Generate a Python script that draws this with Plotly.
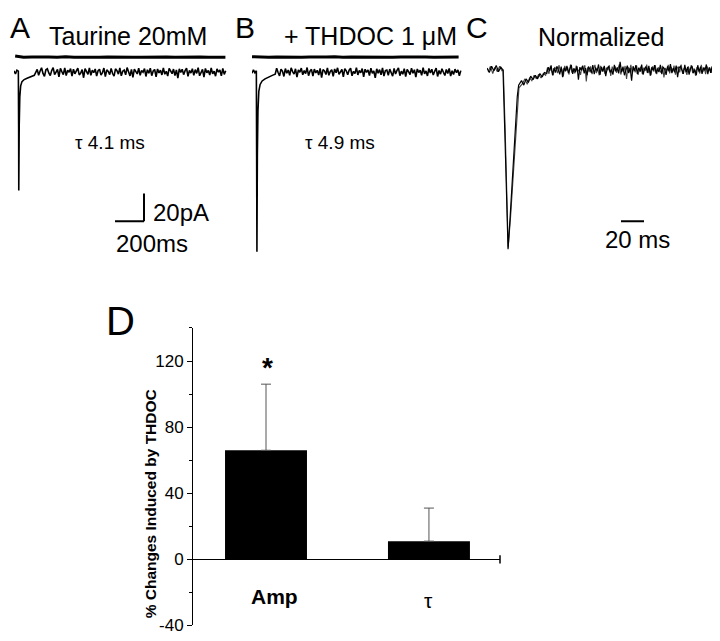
import plotly.graph_objects as go

# ---------------- DATA ----------------
# Panel A (Taurine 20 mM): time (ms), current (pA)
a_spike_t = [0, 10, 20, 30, 32, 33, 34, 36, 40, 46, 55, 70, 90, 115, 140]
a_spike_i = [0.8, -1.5, 1.2, 0.5, -40, -85, -70, -38, -18, -10, -7, -5.5, -4.5, -3.5, -2.5]
a_noise = [
    1.8, -2.4, 0.6, 2.9, -1.1, -3.2, 1.5, 2.2, -0.8, -2.7,
    0.9, 3.0, -2.0, -0.4, 1.7, -3.6, 2.5, 0.2, -1.9, 2.8,
    -2.6, 1.1, -0.3, 2.4, -3.1, 1.9, -1.4, 0.7, 2.6, -2.2,
    -0.9, 1.6, -4.2, 2.3, 0.4, -1.8, 2.9, -2.5, 1.2, -0.6,
    2.1, -3.0, 0.8, 1.9, -2.3, -0.5, 2.7, -3.4, 1.4, 0.3,
    -2.0, 2.5, -1.2, -3.1, 2.2, 0.9, -1.6, 2.8, -2.8, 0.5,
    1.3, -2.1, 3.1, -0.7, -2.9, 1.8, -4.0, 2.0, 0.1, -1.5,
    2.6, -2.4, 1.0, -0.2, 2.3, -3.3, 1.5, -1.0, 2.7, -2.7,
    0.6, 1.7, -3.5, 2.1, -0.8, 1.2, -2.2, 2.9, -1.7, 0.4,
    -3.0, 2.4, 0.7, -1.3, 2.0, -2.6, 1.4, -4.4, 2.2, -0.4,
    1.9, -2.0, 0.9, 2.6, -3.2, 1.1, -0.9, 2.3, -2.5, 1.6,
    -1.1, 3.0, -2.8, 0.3, 1.8, -3.7, 2.5, -0.6, 1.0, -2.3,
    2.8, -1.4, 0.5, -3.1, 2.1, -0.2, 1.3, -2.9, 2.4, -1.8,
    0.8]
a_top = [11.4, 10.5, 10.7, 10.4, 10.6, 10.5, 10.8, 10.4, 10.6, 10.7, 10.5, 10.6, 10.4,
         10.7, 10.5, 10.4, 10.6, 10.5, 10.7, 10.4, 10.6, 10.5, 10.7, 10.5, 10.6, 10.4]

# Panel B (+ THDOC 1 uM)
b_spike_t = [0, 10, 20, 30, 32, 34, 35, 37, 41, 47, 56, 70, 90, 115, 140]
b_spike_i = [-0.9, 1.4, -0.6, 0.8, -60, -129, -110, -60, -28, -14, -9, -6.5, -5, -3.5, -2.5]
b_noise = [
    -1.7, 2.6, -0.5, -2.9, 1.9, 0.6, -3.3, 2.4, -1.0, 1.3,
    -2.5, 2.9, 0.2, -1.6, 2.2, -3.8, 1.4, -0.3, 2.7, -2.1,
    0.9, -1.2, 3.1, -2.7, 0.5, 1.8, -3.0, 2.0, -0.8, 1.1,
    -2.3, 2.5, -4.1, 1.6, 0.7, -1.9, 2.8, -2.4, 0.3, 1.5,
    -3.2, 2.1, -0.6, 2.9, -1.8, -0.1, 1.7, -3.5, 2.3, 0.8,
    -2.0, 1.2, 2.6, -2.8, 0.4, -1.3, 3.0, -2.2, 1.0, -0.7,
    2.4, -3.6, 1.9, -0.4, 1.4, -2.6, 2.7, -1.1, 0.6, -4.3,
    2.2, -0.9, 1.6, -2.1, 2.8, -3.0, 0.9, 1.3, -2.4, 2.0,
    -0.2, -3.1, 2.5, -1.5, 1.1, 2.9, -2.7, 0.5, -1.7, 2.3,
    -3.4, 1.8, 0.1, -2.0, 2.6, -1.0, 1.5, -3.8, 2.1, -0.5,
    1.2, -2.5, 3.0, -1.4, 0.7, -2.9, 2.4, -0.8, 1.9, -2.2,
    0.4, 2.7, -3.3, 1.0, -1.6, 2.2, -0.3, -2.6, 1.7, -1.2,
    2.5, -3.0, 0.8, -1.9, 2.0, -0.6, 1.4, -2.8, 0.9]
b_top = [10.9, 10.6, 10.4, 10.7, 10.5, 10.6, 10.4, 10.7, 10.5, 10.6, 10.8, 10.4, 10.6,
         10.5, 10.7, 10.4, 10.6, 10.5, 10.7, 10.5, 10.4, 10.6, 10.5, 10.7, 10.4, 10.6]

# Panel C (normalized): time (ms), normalized current
c1_head_t = [0, 2, 4, 6, 8, 10, 12, 13.9, 15.5, 17, 18.3, 20.3, 22.3, 24.3, 26.3, 27.5,
             30, 32, 34, 36, 38, 40, 42, 44, 46, 48, 50]
c1_head_v = [0.01, -0.015, 0.02, -0.005, 0.025, -0.01, 0.015, 0.0, -0.35, -0.7, -1.0, -0.8,
             -0.58, -0.36, -0.15, -0.085, -0.06, -0.085, -0.05, -0.07, -0.035, -0.055, -0.03,
             -0.05, -0.02, -0.04, -0.015]
c1_tail = [
    -0.02, 0.015, -0.005, 0.025, -0.03, 0.01, -0.015, 0.02, 0.0, -0.025,
    0.018, -0.04, 0.012, -0.008, 0.022, -0.018, 0.005, 0.028, -0.022, 0.008,
    -0.012, 0.02, -0.055, 0.015, -0.002, 0.024, -0.02, 0.01, -0.03, 0.018,
    0.004, -0.016, 0.026, -0.024, 0.012, -0.006, 0.03, -0.028, 0.016, -0.01,
    0.022, -0.035, 0.008, 0.02, -0.014, 0.002, -0.026, 0.028, -0.008, 0.014,
    -0.02, 0.045, -0.012, 0.018, -0.03, 0.006, 0.024, -0.018, 0.01, -0.06,
    0.02, -0.004, 0.026, -0.022, 0.012, -0.01, 0.03, -0.026, 0.006, 0.018,
    -0.016, 0.022, -0.032, 0.014, -0.002, 0.026, -0.02, 0.008, -0.012, 0.028,
    -0.024, 0.016, 0.004, -0.028, 0.02, -0.008, 0.032, -0.018, 0.01, -0.014,
    0.024, -0.04, 0.012, 0.02, -0.006, -0.022, 0.028, -0.012, 0.016, -0.026,
    0.008, 0.022, -0.018, 0.002, -0.03, 0.026, -0.01, 0.018, -0.022, 0.012,
    -0.004, 0.03, -0.024, 0.014, -0.016, 0.02, -0.008, 0.025, -0.02]
c2_head_t = [1, 3, 5, 7, 9, 11, 13, 14.2, 15.8, 17.2, 18.4, 20.4, 22.4, 24.4, 26.4, 27.8,
             31, 33, 35, 37, 39, 41, 43, 45, 47, 49, 51]
c2_head_v = [-0.01, 0.02, -0.02, 0.015, -0.01, 0.02, -0.005, 0.0, -0.33, -0.68, -0.99, -0.83,
             -0.62, -0.41, -0.2, -0.1, -0.075, -0.05, -0.08, -0.045, -0.06, -0.03, -0.05,
             -0.025, -0.045, -0.02, -0.03]
c2_tail = [
    0.012, -0.022, 0.02, -0.008, -0.03, 0.016, 0.004, -0.018, 0.026, -0.012,
    0.006, -0.036, 0.022, -0.004, 0.014, -0.026, 0.03, -0.016, 0.008, -0.02,
    0.024, -0.01, 0.002, -0.028, 0.018, -0.006, 0.026, -0.065, 0.014, -0.012,
    0.02, -0.024, 0.01, 0.028, -0.018, 0.004, -0.03, 0.022, -0.008, 0.016,
    -0.022, 0.012, -0.002, 0.026, -0.034, 0.018, -0.01, 0.02, -0.016, 0.008,
    0.03, -0.026, 0.006, -0.012, 0.022, -0.05, 0.016, -0.004, 0.028, -0.02,
    0.01, -0.014, 0.024, -0.028, 0.004, 0.018, -0.022, 0.012, -0.006, 0.03,
    -0.018, 0.008, -0.03, 0.02, -0.01, 0.026, -0.024, 0.014, 0.002, -0.016,
    0.022, -0.042, 0.01, -0.006, 0.028, -0.02, 0.016, -0.012, 0.024, -0.026,
    0.006, 0.018, -0.014, 0.03, -0.022, 0.01, -0.004, -0.028, 0.02, -0.01,
    0.026, -0.018, 0.008, -0.032, 0.016, 0.002, -0.02, 0.028, -0.012, 0.014,
    -0.024, 0.02, -0.006, 0.012, -0.016, 0.024, -0.01, 0.018, -0.014]

# Scale bars
scale_ms = 200      # ms (panels A/B)
scale_pa = 20       # pA
scale_c_ms = 20     # ms (panel C)

# Panel D bar chart
d_categories = ["Amp", "τ"]
d_values = [66, 11]
d_sem = [40, 20]
d_tick_labels = ["<b>Amp</b>", "τ"]
d_yticks = [-40, 0, 40, 80, 120]

# ---------------- LAYOUT HELPERS ----------------
OFF = 8                      # default page margin of the html body
FW, FH = 720 - OFF, 641 - OFF
VSCALE = (FH + 2 * OFF) / 641.0   # page is photographed whole, incl. bottom margin
FONT = "Liberation Sans, Arial, sans-serif"


def px(x):
    return (x - OFF) / FW


def py(y):
    return 1 - (y * VSCALE - OFF) / FH


def sample_times(start, step, n):
    return [start + step * k for k in range(n)]


a_t = a_spike_t + sample_times(160, 10, len(a_noise))
a_i = a_spike_i + a_noise
b_t = b_spike_t + sample_times(160, 10, len(b_noise))
b_i = b_spike_i + b_noise
a_top_t = sample_times(8, 58, len(a_top))
b_top_t = sample_times(0, 57, len(b_top))
c1_t = c1_head_t + sample_times(52, 1.25, len(c1_tail))
c1_v = c1_head_v + c1_tail
c2_t = c2_head_t + sample_times(52.6, 1.25, len(c2_tail))
c2_v = c2_head_v + c2_tail

# pixel geometry (reference pixel coordinates)
PX_PER_MS = 29 / 200.0
PX_PER_PA = 28 / 20.0
TR_TOP, TR_BOT, TR_BASE = 40, 262, 72
A_X0, A_X1 = 14, 227
B_X0, B_X1 = 252, 462
C_X0, C_X1 = 487, 717
C_BASE, C_PX_PER_UNIT = 70, 180.0
C_PX_PER_MS = 1.15

ab_yrange = [-(TR_BOT - TR_BASE) / PX_PER_PA, (TR_BASE - TR_TOP) / PX_PER_PA]
c_yrange = [-(TR_BOT - C_BASE) / C_PX_PER_UNIT, (C_BASE - TR_TOP) / C_PX_PER_UNIT]

D_X0, D_X1 = 193, 500
D_Y0, D_Y1 = 329.0, 627.5  # pixel rows for 140 and -40

fig = go.Figure()
line_k = dict(color="black", width=1.6)
fig.add_trace(go.Scatter(x=a_t, y=a_i, mode="lines", line=line_k, xaxis="x", yaxis="y"))
fig.add_trace(go.Scatter(x=a_top_t, y=a_top, mode="lines", line=dict(color="black", width=3), xaxis="x", yaxis="y"))
fig.add_trace(go.Scatter(x=b_t, y=b_i, mode="lines", line=line_k, xaxis="x2", yaxis="y2"))
fig.add_trace(go.Scatter(x=b_top_t, y=b_top, mode="lines", line=dict(color="black", width=3), xaxis="x2", yaxis="y2"))
fig.add_trace(go.Scatter(x=c2_t, y=c2_v, mode="lines", line=dict(color="#444", width=1.1), xaxis="x3", yaxis="y3"))
fig.add_trace(go.Scatter(x=c1_t, y=c1_v, mode="lines", line=dict(color="black", width=1.2), xaxis="x3", yaxis="y3"))

fig.add_trace(go.Bar(
    x=d_categories, y=d_values, width=0.503, marker=dict(color="black", line=dict(width=0)),
    error_y=dict(type="data", array=d_sem, arrayminus=[0] * len(d_sem), symmetric=False,
                 color="#555", thickness=1, width=5),
    xaxis="x4", yaxis="y4"))

hidden = dict(visible=False, showgrid=False, zeroline=False)
fig.update_layout(
    width=FW, height=FH, margin=dict(l=0, r=0, t=0, b=0),
    paper_bgcolor="white", plot_bgcolor="white", showlegend=False,
    font=dict(family=FONT, color="black"),
    xaxis=dict(domain=[px(A_X0), px(A_X1)], range=[0, (A_X1 - A_X0) / PX_PER_MS], anchor="y", **hidden),
    yaxis=dict(domain=[py(TR_BOT), py(TR_TOP)], range=ab_yrange, anchor="x", **hidden),
    xaxis2=dict(domain=[px(B_X0), px(B_X1)], range=[0, (B_X1 - B_X0) / PX_PER_MS], anchor="y2", **hidden),
    yaxis2=dict(domain=[py(TR_BOT), py(TR_TOP)], range=ab_yrange, anchor="x2", **hidden),
    xaxis3=dict(domain=[px(C_X0), px(C_X1)], range=[0, (C_X1 - C_X0) / C_PX_PER_MS], anchor="y3", **hidden),
    yaxis3=dict(domain=[py(TR_BOT), py(TR_TOP)], range=c_yrange, anchor="x3", **hidden),
    xaxis4=dict(domain=[px(D_X0), px(D_X1)], range=[-0.448, 1.436], type="category", anchor="y4",
                showticklabels=False, showline=False, showgrid=False, zeroline=False,
                categoryorder="array", categoryarray=d_categories),
    yaxis4=dict(domain=[py(D_Y1), py(D_Y0)], range=[-40, 140], anchor="x4", showgrid=False,
                showline=True, linecolor="black", linewidth=1,
                ticks="outside", ticklen=5, tickwidth=1, tickcolor="black",
                tickvals=d_yticks, ticktext=[str(v) for v in d_yticks],
                ticklabeloverflow="allow",
                tickfont=dict(size=17, family=FONT, color="black"),
                minor=dict(dtick=20, tick0=0, ticks="outside", ticklen=3, tickcolor="black", tickwidth=1),
                zeroline=True, zerolinecolor="black", zerolinewidth=1),
)

# scale bars
sb_t0 = (115 - A_X0) / PX_PER_MS
sb_y0 = -(222 - TR_BASE) / PX_PER_PA
shapes = [
    dict(type="line", xref="x", yref="y", x0=sb_t0, x1=sb_t0 + scale_ms, y0=sb_y0, y1=sb_y0,
         line=dict(color="black", width=2)),
    dict(type="line", xref="x", yref="y", x0=sb_t0 + scale_ms, x1=sb_t0 + scale_ms,
         y0=sb_y0, y1=sb_y0 + scale_pa, line=dict(color="black", width=2)),
]
sc_t0 = (621 - C_X0) / C_PX_PER_MS
sc_y = -(222 - C_BASE) / C_PX_PER_UNIT
shapes.append(dict(type="line", xref="x3", yref="y3", x0=sc_t0, x1=sc_t0 + scale_c_ms,
                   y0=sc_y, y1=sc_y, line=dict(color="black", width=2)))
# right end tick on the zero line of D
shapes.append(dict(type="line", xref="x4 domain", yref="y4", x0=1, x1=1, y0=-2.5, y1=2.5,
                   line=dict(color="black", width=1.5)))
fig.update_layout(shapes=shapes)


def ann(text, x, y, size, bold=False, xanchor="center", angle=0):
    t = f"<b>{text}</b>" if bold else text
    return dict(text=t, x=px(x), y=py(y), xref="paper", yref="paper", showarrow=False,
                xanchor=xanchor, yanchor="middle", font=dict(size=size, family=FONT, color="black"),
                textangle=angle)


annotations = [
    ann("A", 20, 27, 30),
    ann("B", 245, 27, 30),
    ann("C", 477, 27, 30),
    ann("Taurine 20mM", 128, 36, 25),
    ann("+ THDOC 1 μM", 370, 36, 25),
    ann("Normalized", 601, 37, 25),
    ann("τ 4.1 ms", 110, 143, 19),
    ann("τ 4.9 ms", 340, 143, 19),
    ann(f"{scale_pa}pA", 151, 213, 24, xanchor="left"),
    ann(f"{scale_ms}ms", 114, 244, 24, xanchor="left"),
    ann(f"{scale_c_ms} ms", 637, 240, 24),
    ann("D", 120, 322, 40),
    ann("*", 267, 369, 28, bold=True),
    ann("% Changes Induced by THDOC", 150, 506, 15.5, bold=True, angle=-90),
]
# category labels for D placed under each bar
for cat, lab, dy in zip(d_categories, d_tick_labels, [0, 4]):
    annotations.append(dict(text=lab, x=cat, xref="x4", y=py(598 + dy), yref="paper",
                            showarrow=False, xanchor="center", yanchor="middle",
                            xshift=8 if cat == "Amp" else 0,
                            font=dict(size=21, family=FONT, color="black")))
fig.update_layout(annotations=annotations)

fig.write_html("out.html")
